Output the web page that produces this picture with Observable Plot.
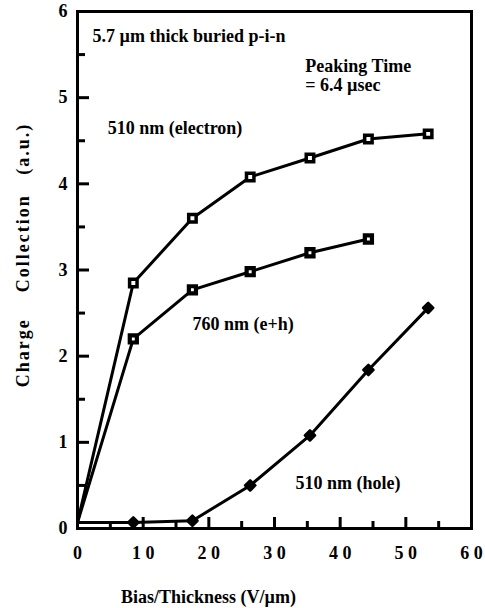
<!DOCTYPE html>
<html>
<head>
<meta charset="utf-8">
<script src="https://cdn.jsdelivr.net/npm/d3@7"></script>
<script src="https://cdn.jsdelivr.net/npm/@observablehq/plot@0.6"></script>
<style>
  html, body { margin: 0; padding: 0; background: #fff; }
  svg text { white-space: pre; }
</style>
</head>
<body>
<div id="chart"></div>
<script>
// Data
const bias = [0, 8.5, 17.5, 26.3, 35.4, 44.3, 53.4];            // V/µm
const electron510 = [0.07, 2.85, 3.60, 4.08, 4.30, 4.52, 4.58]; // 510 nm (electron)
const eh760 = [0.07, 2.20, 2.77, 2.98, 3.20, 3.36];             // 760 nm (e+h)
const hole510 = [0.07, 0.07, 0.09, 0.50, 1.08, 1.84, 2.56];     // 510 nm (hole)

const xMajor = [0, 10, 20, 30, 40, 50, 60];
const xMinor = [5, 15, 25, 35, 45, 55];
const yMajor = [0, 1, 2, 3, 4, 5, 6];
const yMinor = [0.5, 1.5, 2.5, 3.5, 4.5, 5.5];

const noteText = ["5.7 µm thick buried p-i-n", "Peaking Time", "= 6.4 µsec", "510 nm (electron)", "760 nm (e+h)", "510 nm (hole)"];
const noteX = [2.3, 34.7, 34.7, 4.6, 17.5, 33.2];
const noteY = [5.71, 5.37, 5.15, 4.64, 2.37, 0.53];

const xTitle = "Bias/Thickness (V/µm)";
const yTitle = "Charge    Collection   (a.u.)";

const W = 485, H = 608, mL = 77, mR = 14, mT = 11, mB = 80;
const xDomain = [0, 60], yDomain = [0, 6];
// inward tick lengths (pixels) expressed in data units
const xPerPx = (xDomain[1] - xDomain[0]) / (W - mL - mR);
const yPerPx = (yDomain[1] - yDomain[0]) / (H - mT - mB);

const toRows = (ys, series) => ys.map((y, i) => ({x: bias[i], y, series}));
const eRows = toRows(electron510, "e");
const ehRows = toRows(eh760, "eh");
const hRows = toRows(hole510, "h");
const notes = noteText.map((text, i) => ({text, x: noteX[i], y: noteY[i]}));

const chart = Plot.plot({
  width: W,
  height: H,
  marginLeft: mL,
  marginRight: mR,
  marginTop: mT,
  marginBottom: mB,
  style: {fontFamily: "'Liberation Serif', 'Times New Roman', serif", fontWeight: "bold", fontSize: "18px", color: "black", background: "white"},
  x: {domain: xDomain},
  y: {domain: yDomain},
  marks: [
    // tick labels
    Plot.axisX(xMajor, {tickSize: 0, tickPadding: 18, tickFormat: d => String(d).split("").join(" "), label: null}),
    Plot.axisY(yMajor, {tickSize: 0, tickPadding: 10, tickFormat: d => String(d), label: null}),
    Plot.frame({stroke: "black", fill: "none", strokeWidth: 3}),
    // inward ticks
    Plot.ruleX(xMajor, {x: d => d, y1: yDomain[0], y2: yDomain[0] + 11 * yPerPx, stroke: "black", strokeWidth: 3}),
    Plot.ruleX(xMinor, {x: d => d, y1: yDomain[0], y2: yDomain[0] + 7 * yPerPx, stroke: "black", strokeWidth: 3}),
    Plot.ruleY(yMajor, {y: d => d, x1: xDomain[0], x2: xDomain[0] + 12 * xPerPx, stroke: "black", strokeWidth: 3}),
    Plot.ruleY(yMinor, {y: d => d, x1: xDomain[0], x2: xDomain[0] + 8 * xPerPx, stroke: "black", strokeWidth: 3}),
    // series
    Plot.line(eRows, {x: "x", y: "y", stroke: "black", strokeWidth: 3}),
    Plot.line(ehRows, {x: "x", y: "y", stroke: "black", strokeWidth: 3}),
    Plot.line(hRows, {x: "x", y: "y", stroke: "black", strokeWidth: 3}),
    Plot.dot(eRows.filter(d => d.x > 0), {x: "x", y: "y", symbol: "square", r: 4.2, fill: "white", stroke: "black", strokeWidth: 3.5}),
    Plot.dot(ehRows.filter(d => d.x > 0), {x: "x", y: "y", symbol: "square", r: 4.0, fill: "white", stroke: "black", strokeWidth: 4.2}),
    Plot.dot(hRows.filter(d => d.x > 0), {x: "x", y: "y", symbol: "diamond2", r: 4.6, fill: "black", stroke: "black", strokeWidth: 2.5, strokeLinejoin: "round"}),
    // annotations
    Plot.text(notes, {x: "x", y: "y", text: "text", textAnchor: "start", fill: "black"}),
    // axis titles
    Plot.text([xTitle], {frameAnchor: "bottom", textAnchor: "middle", lineAnchor: "middle", dx: -66, dy: 69, fill: "black"}),
    Plot.text([yTitle], {frameAnchor: "left", textAnchor: "middle", lineAnchor: "middle", dx: -54, dy: -15, rotate: -90, fill: "black"})
  ]
});
d3.select(chart).selectAll("text").filter(function() { return this.textContent === yTitle; }).attr("letter-spacing", "2px");
document.getElementById("chart").appendChild(chart);
</script>
</body>
</html>
